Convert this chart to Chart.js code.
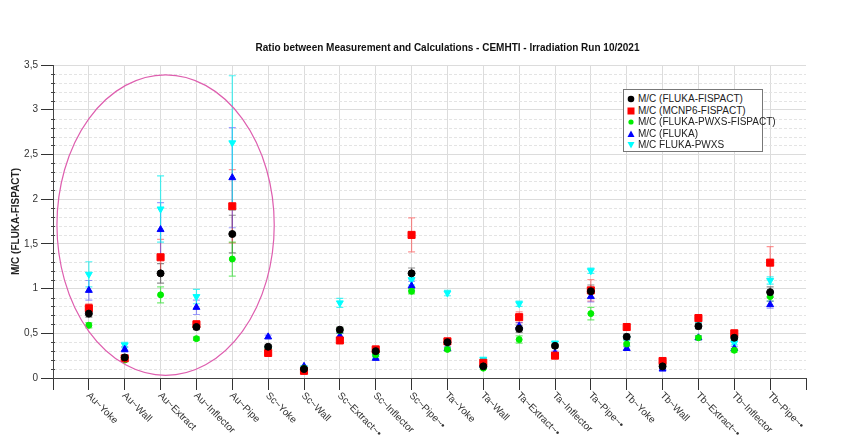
<!DOCTYPE html>
<html>
<head>
<meta charset="utf-8">
<script src="https://cdn.jsdelivr.net/npm/chart.js@4.4.0/dist/chart.umd.min.js"></script>
<style>
  body { margin: 0; background: #fff; }
  #wrap { position: relative; width: 845px; height: 441px; }
  #legend {
    position: absolute; left: 623px; top: 89px; width: 140px; height: 63px;
    border: 1px solid #777; background: #fff;
    font: 10px "Liberation Sans", Arial, sans-serif; color: #222;
    padding-top: 3px; box-sizing: border-box;
  }
  #legend div { height: 11.5px; line-height: 11.5px; white-space: nowrap; }
  #legend svg { width: 8px; height: 8px; vertical-align: -1px; margin: 0 3px 0 3px; }
</style>
</head>
<body>
<div id="wrap">
  <canvas id="canvas" width="845" height="441"></canvas>
  <div id="legend"></div>
</div>
<script>
// categories on the x axis
var categories = ['Au~Yoke', 'Au~Wall', 'Au~Extract', 'Au~Inflector', 'Au~Pipe',
  'Sc~Yoke', 'Sc~Wall', 'Sc~Extract~•', 'Sc~Inflector', 'Sc~Pipe~•',
  'Ta~Yoke', 'Ta~Wall', 'Ta~Extract~•', 'Ta~Inflector', 'Ta~Pipe~•',
  'Tb~Yoke', 'Tb~Wall', 'Tb~Extract~•', 'Tb~Inflector', 'Tb~Pipe~•'];

// M/C (FLUKA-FISPACT)
var flukaFispact = [0.72, 0.23, 1.17, 0.57, 1.61, 0.35, 0.10, 0.54, 0.30, 1.17, 0.40, 0.13, 0.55, 0.36, 0.97, 0.46, 0.13, 0.58, 0.45, 0.96];
var flukaFispactErr = [0.04, 0.02, 0.11, 0.03, 0.21, 0.02, 0.01, 0.03, 0.02, 0.06, 0.02, 0.01, 0.04, 0.02, 0.07, 0.03, 0.01, 0.03, 0.03, 0.06];
// M/C (MCNP6-FISPACT)
var mcnpFispact = [0.78, 0.22, 1.35, 0.60, 1.92, 0.28, 0.08, 0.42, 0.32, 1.60, 0.41, 0.17, 0.68, 0.25, 0.98, 0.57, 0.19, 0.67, 0.50, 1.29];
var mcnpFispactErr = [0.05, 0.02, 0.20, 0.04, 0.41, 0.02, 0.01, 0.03, 0.02, 0.19, 0.03, 0.01, 0.06, 0.02, 0.12, 0.03, 0.01, 0.04, 0.03, 0.18];
// M/C (FLUKA-PWXS-FISPACT)
var pwxsFispact = [0.59, 0.20, 0.93, 0.44, 1.33, 0.33, 0.11, 0.53, 0.26, 0.97, 0.32, 0.11, 0.43, 0.25, 0.72, 0.38, 0.14, 0.45, 0.31, 0.91];
var pwxsFispactErr = [0.03, 0.01, 0.09, 0.02, 0.19, 0.02, 0.01, 0.03, 0.02, 0.03, 0.02, 0.01, 0.04, 0.02, 0.07, 0.02, 0.01, 0.02, 0.02, 0.05];
// M/C (FLUKA)
var fluka = [0.98, 0.32, 1.66, 0.79, 2.24, 0.46, 0.13, 0.47, 0.22, 1.03, 0.33, 0.14, 0.58, 0.28, 0.91, 0.33, 0.10, 0.45, 0.33, 0.82];
var flukaErr = [0.11, 0.03, 0.30, 0.08, 0.56, 0.02, 0.01, 0.03, 0.02, 0.05, 0.02, 0.01, 0.04, 0.02, 0.06, 0.02, 0.01, 0.02, 0.02, 0.04];
// M/C FLUKA-PWXS
var flukaPwxs = [1.16, 0.37, 1.89, 0.91, 2.63, 0.33, 0.11, 0.84, 0.24, 1.10, 0.95, 0.21, 0.83, 0.39, 1.20, 0.44, 0.15, 0.65, 0.39, 1.09];
var flukaPwxsErr = [0.14, 0.03, 0.37, 0.08, 0.75, 0.02, 0.01, 0.05, 0.02, 0.06, 0.03, 0.01, 0.03, 0.02, 0.03, 0.02, 0.01, 0.03, 0.02, 0.04];

var FONT = '"Liberation Sans", Arial, sans-serif';

function pts(vals) {
  return vals.map(function (v, i) { return { x: i + 1, y: v }; });
}

var series = [
  { label: 'M/C (FLUKA-FISPACT)', data: flukaFispact, err: flukaFispactErr, color: '#000000', errColor: 'rgba(0,0,0,0.45)', style: 'circle', r: 3.5, rot: 0 },
  { label: 'M/C (MCNP6-FISPACT)', data: mcnpFispact, err: mcnpFispactErr, color: '#ff0000', errColor: 'rgba(255,60,60,0.55)', style: 'rect', r: 5, rot: 0 },
  { label: 'M/C (FLUKA-PWXS-FISPACT)', data: pwxsFispact, err: pwxsFispactErr, color: '#00ee00', errColor: 'rgba(0,220,0,0.55)', style: 'circle', r: 3, rot: 0 },
  { label: 'M/C (FLUKA)', data: fluka, err: flukaErr, color: '#0000ff', errColor: 'rgba(60,60,255,0.5)', style: 'triangle', r: 4, rot: 0 },
  { label: 'M/C FLUKA-PWXS', data: flukaPwxs, err: flukaPwxsErr, color: '#00ffff', errColor: 'rgba(0,240,240,0.7)', style: 'triangle', r: 4, rot: 180 }
];

// pink ellipse drawn around the Au group (in data units)
var ellipse = { x: 3.14, y: 1.71, rx: 3.03, ry: 1.68 };

var errorBars = {
  id: 'errorBars',
  beforeDatasetsDraw: function (chart) {
    var ctx = chart.ctx, ys = chart.scales.y;
    chart.data.datasets.forEach(function (ds, di) {
      var meta = chart.getDatasetMeta(di);
      ctx.save();
      ctx.strokeStyle = ds.errColor;
      ctx.lineWidth = 1.2;
      meta.data.forEach(function (p, i) {
        var v = ds.data[i].y, e = ds.err[i];
        var top = ys.getPixelForValue(v + e), bot = ys.getPixelForValue(v - e);
        ctx.beginPath();
        ctx.moveTo(p.x, top); ctx.lineTo(p.x, bot);
        ctx.moveTo(p.x - 3.5, top); ctx.lineTo(p.x + 3.5, top);
        ctx.moveTo(p.x - 3.5, bot); ctx.lineTo(p.x + 3.5, bot);
        ctx.stroke();
      });
      ctx.restore();
    });
  }
};

var decorations = {
  id: 'decorations',
  beforeDatasetsDraw: function (chart) {
    var ctx = chart.ctx, a = chart.chartArea, ys = chart.scales.y;
    ctx.save();
    // minor dashed grid + minor ticks
    for (var k = 1; k < 35; k++) {
      if (k % 5 === 0) continue;
      var py = Math.round(ys.getPixelForValue(k / 10)) + 0.5;
      ctx.strokeStyle = '#e4e4e4';
      ctx.lineWidth = 1;
      ctx.setLineDash([3, 2]);
      ctx.beginPath(); ctx.moveTo(a.left + 1, py); ctx.lineTo(a.right, py); ctx.stroke();
      ctx.setLineDash([]);
      ctx.strokeStyle = '#444';
      ctx.beginPath(); ctx.moveTo(a.left - 2, py); ctx.lineTo(a.left + 2, py); ctx.stroke();
    }
    ctx.restore();
  },
  afterDraw: function (chart) {
    var ctx = chart.ctx, a = chart.chartArea, xs = chart.scales.x, ys = chart.scales.y;
    ctx.save();
    // title
    ctx.fillStyle = '#111';
    ctx.font = 'bold 10px ' + FONT;
    ctx.textAlign = 'center';
    ctx.textBaseline = 'middle';
    ctx.fillText('Ratio between Measurement and Calculations - CEMHTI - Irradiation Run 10/2021', (a.left + a.right) / 2 + 18, 48);
    // x labels, rotated down to the right
    ctx.font = '10px ' + FONT;
    ctx.fillStyle = '#333';
    ctx.textAlign = 'left';
    categories.forEach(function (c, i) {
      var px = xs.getPixelForValue(i + 1);
      ctx.save();
      ctx.translate(px - 1, a.bottom + 16);
      ctx.rotate(Math.PI / 4);
      ctx.fillText(c, 0, 0);
      ctx.restore();
    });
    // ellipse
    var cx = xs.getPixelForValue(ellipse.x), cy = ys.getPixelForValue(ellipse.y);
    var rx = xs.getPixelForValue(ellipse.x + ellipse.rx) - cx;
    var ry = cy - ys.getPixelForValue(ellipse.y + ellipse.ry);
    ctx.strokeStyle = 'rgb(222,95,175)';
    ctx.lineWidth = 1.2;
    ctx.beginPath();
    ctx.ellipse(cx, cy, rx, ry, 0, 0, Math.PI * 2);
    ctx.stroke();
    ctx.restore();
  }
};

var ctx = document.getElementById('canvas').getContext('2d');
var chart = new Chart(ctx, {
  type: 'scatter',
  data: {
    datasets: series.map(function (s) {
      return {
        label: s.label,
        data: pts(s.data),
        err: s.err,
        errColor: s.errColor,
        pointStyle: s.style,
        pointRadius: s.r,
        pointRotation: s.rot,
        backgroundColor: s.color,
        borderColor: s.color,
        borderWidth: 1,
        showLine: false
      };
    })
  },
  options: {
    responsive: false,
    animation: false,
    layout: { padding: { top: 65, right: 39, left: 0, bottom: 0 } },
    plugins: {
      legend: { display: false },
      tooltip: { enabled: false }
    },
    scales: {
      x: {
        type: 'linear',
        min: 0,
        max: 21,
        ticks: { stepSize: 1, display: false },
        grid: {
          color: function (c) { return (c.tick.value === 0 || c.tick.value === 21) ? 'rgba(0,0,0,0)' : '#dcdcdc'; },
          tickColor: '#333',
          tickLength: 12
        },
        border: { color: '#444', width: 1 },
        afterFit: function (s) { s.height = 63; }
      },
      y: {
        min: 0,
        max: 3.5,
        ticks: {
          stepSize: 0.5,
          padding: 3,
          color: '#333',
          font: { family: FONT, size: 10 },
          callback: function (v) { return String(v).replace('.', ','); }
        },
        grid: { color: '#dcdcdc', tickColor: '#333', tickLength: 12 },
        border: { color: '#444', width: 1 },
        title: {
          display: true,
          text: 'M/C (FLUKA-FISPACT)',
          color: '#222',
          font: { family: FONT, size: 10, weight: 'bold' },
          padding: { top: 10, bottom: 0 }
        },
        afterFit: function (s) { s.width = 53; }
      }
    }
  },
  plugins: [decorations, errorBars]
});

// html legend
var shapes = {
  circle: function (c, r) { return '<circle cx="4" cy="4" r="' + r + '" fill="' + c + '"/>'; },
  rect: function (c) { return '<rect x="0.5" y="0.5" width="7" height="7" fill="' + c + '"/>'; },
  triangle: function (c, r, rot) {
    return rot ? '<polygon points="0.5,1 7.5,1 4,7.5" fill="' + c + '"/>' : '<polygon points="4,0.5 7.5,7 0.5,7" fill="' + c + '"/>';
  }
};
document.getElementById('legend').innerHTML = series.map(function (s) {
  return '<div><svg viewBox="0 0 8 8">' + shapes[s.style](s.color, s.r === 3 ? 2.6 : 3.3, s.rot) + '</svg>' + s.label + '</div>';
}).join('');
</script>
</body>
</html>
